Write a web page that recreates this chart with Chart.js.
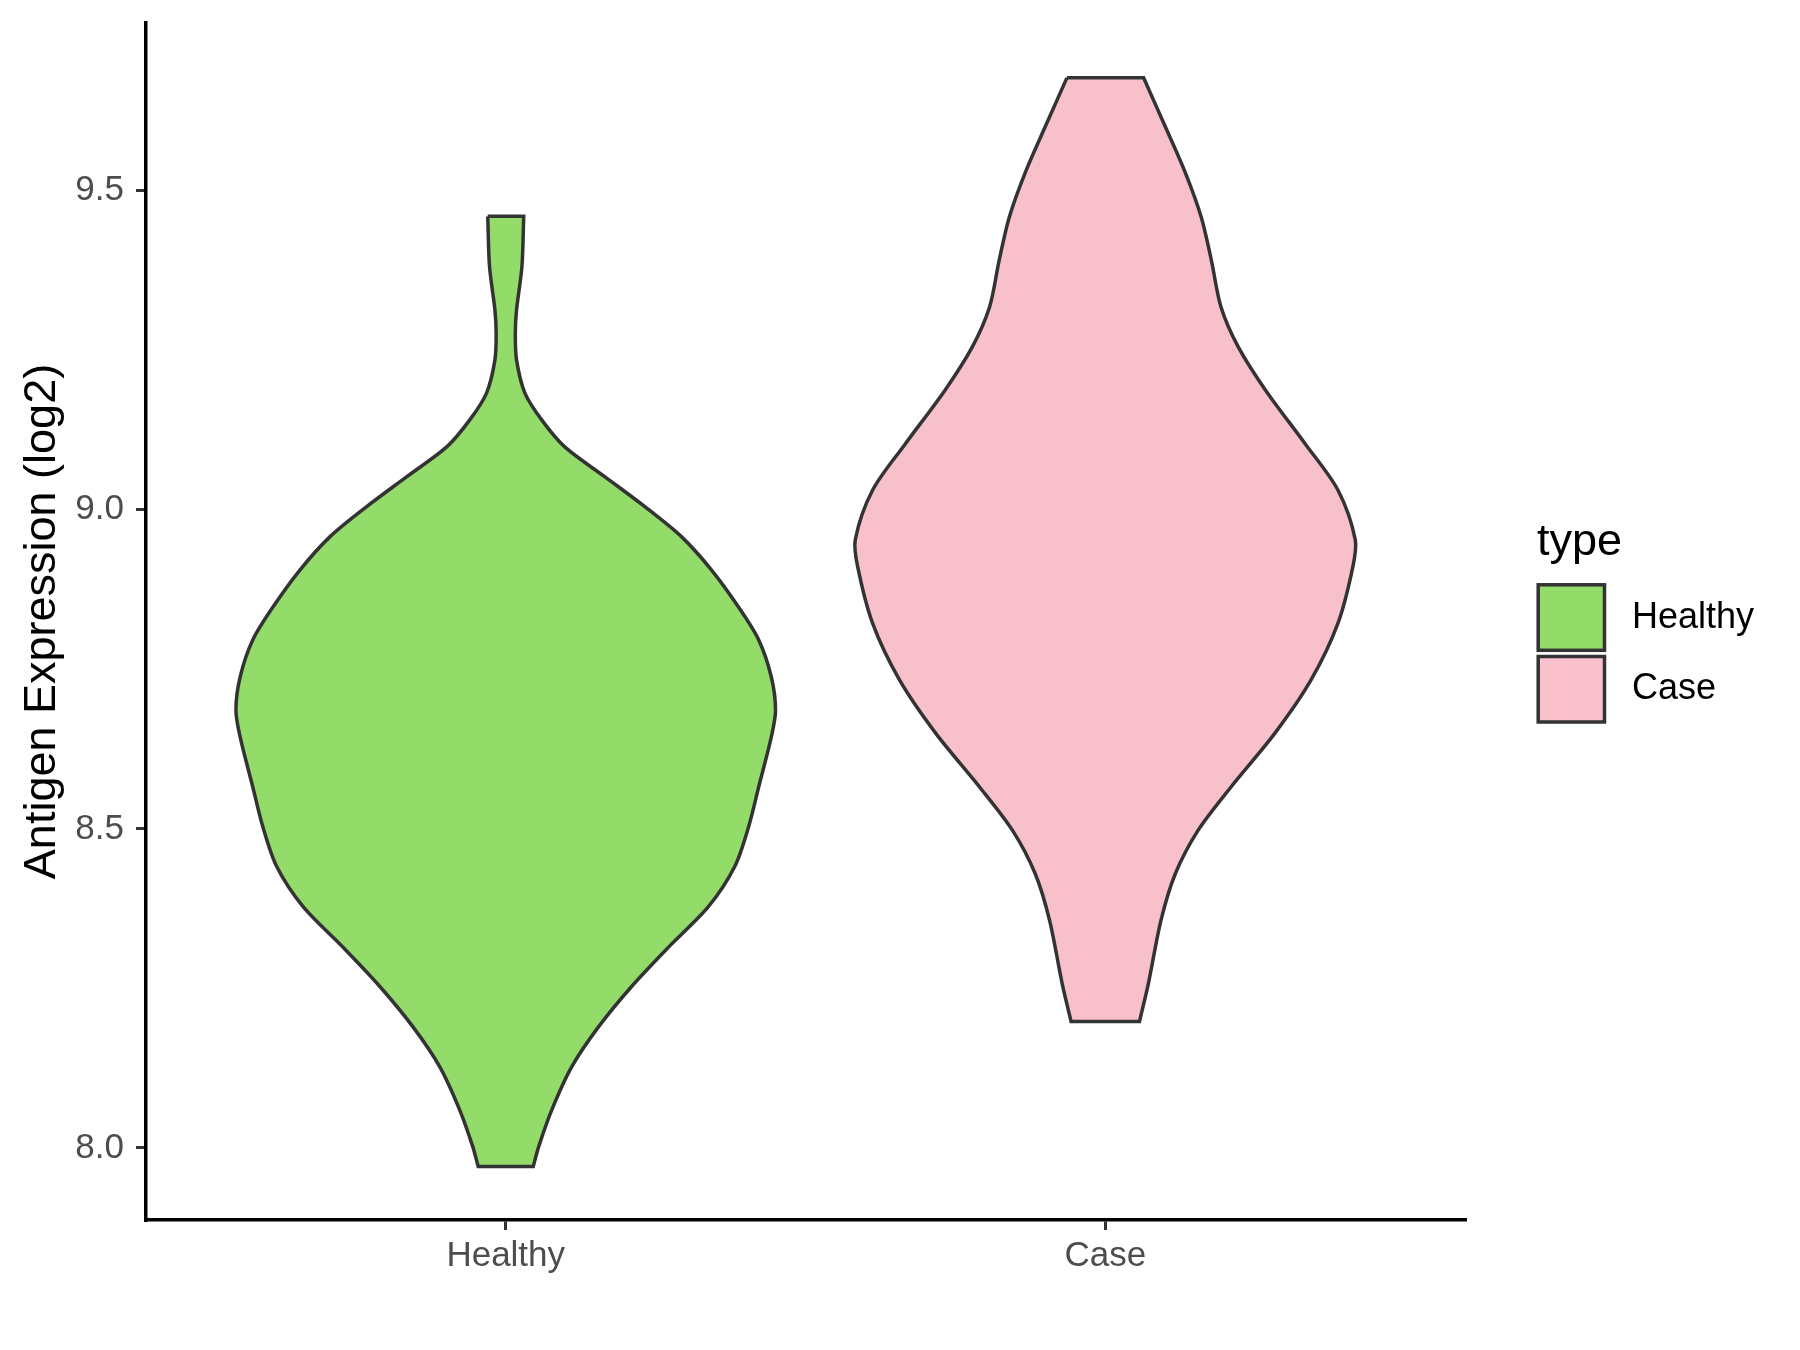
<!DOCTYPE html>
<html>
<head>
<meta charset="utf-8">
<script src="https://cdn.jsdelivr.net/npm/chart.js@4.4.1/dist/chart.umd.min.js"></script>
<style>
  html, body { margin: 0; padding: 0; background: #fff; }
  #wrap { width: 1800px; height: 1350px; }
</style>
</head>
<body>
<div id="wrap"><canvas id="violin" width="1800" height="1350"></canvas></div>
<script>
const groups = ['Healthy', 'Case'];
const fills = ['#93DC6A', '#F7C0CB'];
const yTicks = [8.0, 8.5, 9.0, 9.5];

// violin outlines: expression value and half width (in x-axis units)
const healthyY = [9.460, 9.381, 9.313, 9.277, 9.235, 9.183, 9.141, 9.099, 9.052, 9.005, 8.958, 8.906, 8.848, 8.796, 8.738, 8.686, 8.644, 8.566, 8.503, 8.441, 8.378, 8.315, 8.253, 8.190, 8.127, 8.060, 8.002, 7.971];
const healthyHalf = [0.030, 0.027, 0.018, 0.016, 0.018, 0.032, 0.060, 0.098, 0.165, 0.232, 0.293, 0.343, 0.388, 0.422, 0.443, 0.450, 0.443, 0.422, 0.405, 0.382, 0.338, 0.272, 0.210, 0.155, 0.110, 0.077, 0.055, 0.046];
const caseY = [9.677, 9.605, 9.532, 9.459, 9.391, 9.318, 9.255, 9.188, 9.104, 9.031, 8.953, 8.911, 8.822, 8.733, 8.650, 8.566, 8.498, 8.430, 8.357, 8.258, 8.198];
const caseHalf = [0.064, 0.098, 0.132, 0.160, 0.177, 0.193, 0.222, 0.267, 0.333, 0.388, 0.417, 0.413, 0.388, 0.343, 0.283, 0.210, 0.155, 0.117, 0.093, 0.072, 0.057];

const FONT = '"Liberation Sans", Arial, sans-serif';

// left side going down, right side coming back up, then close.
// the four corners are repeated so the flat ends stay straight and sharp
function outline(pos, ys, half) {
  const n = ys.length;
  const left = ys.map((y, i) => ({ x: pos - half[i], y }));
  const right = ys.map((y, i) => ({ x: pos + half[i], y })).reverse();
  return [left[0], ...left, left[n - 1], right[0], ...right, right[n - 1], left[0]];
}

const shapes = [outline(1, healthyY, healthyHalf), outline(2, caseY, caseHalf)];

// ggplot-like legend on the right
const legendPlugin = {
  id: 'typeLegend',
  afterDraw(chart) {
    const c = chart.ctx;
    c.save();
    c.fillStyle = '#000';
    c.font = `45px ${FONT}`;
    c.textBaseline = 'alphabetic';
    c.fillText('type', 1537, 555);
    groups.forEach((g, i) => {
      const top = 584.8 + i * 71.7;
      c.fillStyle = fills[i];
      c.fillRect(1538.2, top, 66.3, 65.5);
      c.strokeStyle = '#333333';
      c.lineWidth = 3.5;
      c.strokeRect(1538.2, top, 66.3, 65.5);
      c.fillStyle = '#000';
      c.font = `36px ${FONT}`;
      c.textBaseline = 'middle';
      c.fillText(g, 1632, top + 33);
    });
    c.restore();
  }
};

const noEdgePadding = s => {
  s.paddingTop = 0;
  s.paddingBottom = 0;
  s.paddingLeft = 0;
  s.paddingRight = 0;
};

new Chart(document.getElementById('violin').getContext('2d'), {
  type: 'scatter',
  data: {
    datasets: shapes.map((pts, i) => ({
      label: groups[i],
      data: pts,
      showLine: true,
      fill: 'shape',
      backgroundColor: fills[i],
      borderColor: '#333333',
      borderWidth: 3.5,
      borderJoinStyle: 'miter',
      pointRadius: 0,
      tension: 0.3
    }))
  },
  options: {
    responsive: false,
    animation: false,
    events: [],
    layout: { padding: { top: 23, right: 335, left: 0, bottom: 0 } },
    scales: {
      x: {
        type: 'linear',
        min: 0.4,
        max: 2.6,
        afterBuildTicks: s => { s.ticks = groups.map((g, i) => ({ value: i + 1 })); },
        afterFit: s => { s.height = 130; noEdgePadding(s); },
        ticks: {
          callback: v => groups[v - 1],
          color: '#4D4D4D',
          font: { family: FONT, size: 35 },
          padding: 5,
          maxRotation: 0
        },
        grid: { drawOnChartArea: false, drawTicks: true, tickLength: 10, color: '#333333', lineWidth: 3 },
        border: { display: true, color: '#000', width: 3.5 }
      },
      y: {
        type: 'linear',
        min: 7.887,
        max: 9.763,
        afterBuildTicks: s => { s.ticks = yTicks.map(v => ({ value: v })); },
        afterFit: s => { s.width = 146; noEdgePadding(s); },
        ticks: {
          callback: v => Number(v).toFixed(1),
          color: '#4D4D4D',
          font: { family: FONT, size: 35 },
          padding: 12
        },
        grid: { drawOnChartArea: false, drawTicks: true, tickLength: 10, color: '#333333', lineWidth: 3 },
        border: { display: true, color: '#000', width: 3.5 },
        title: {
          display: true,
          text: 'Antigen Expression (log2)',
          color: '#000',
          font: { family: FONT, size: 45 },
          padding: { top: 16, bottom: 0 }
        }
      }
    },
    plugins: {
      legend: { display: false },
      tooltip: { enabled: false }
    }
  },
  plugins: [legendPlugin]
});
</script>
</body>
</html>
